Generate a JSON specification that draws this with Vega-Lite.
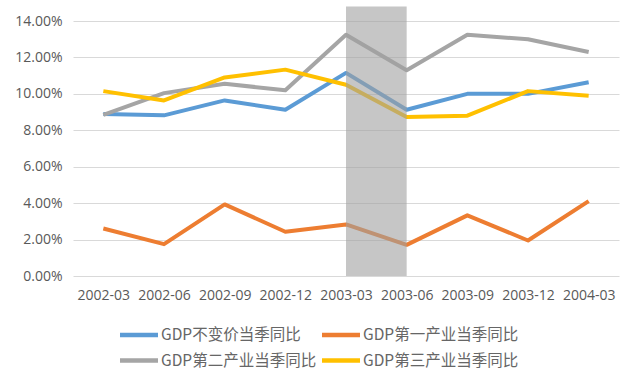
{
  "$schema": "https://vega.github.io/schema/vega-lite/v6.json",
  "width": 546,
  "height": 255,
  "autosize": {"type": "none"},
  "padding": {"left": 73, "top": 21, "right": 21, "bottom": 109},
  "background": "white",
  "config": {"view": {"stroke": null}, "font": "Open Sans"},
  "datasets": {
    "series": [
      {"date": "2002-03", "series": "GDP不变价当季同比", "value": 0.0890},
      {"date": "2002-06", "series": "GDP不变价当季同比", "value": 0.0882},
      {"date": "2002-09", "series": "GDP不变价当季同比", "value": 0.0964},
      {"date": "2002-12", "series": "GDP不变价当季同比", "value": 0.0913},
      {"date": "2003-03", "series": "GDP不变价当季同比", "value": 0.1115},
      {"date": "2003-06", "series": "GDP不变价当季同比", "value": 0.0913},
      {"date": "2003-09", "series": "GDP不变价当季同比", "value": 0.1000},
      {"date": "2003-12", "series": "GDP不变价当季同比", "value": 0.1000},
      {"date": "2004-03", "series": "GDP不变价当季同比", "value": 0.1064},
      {"date": "2002-03", "series": "GDP第一产业当季同比", "value": 0.0261},
      {"date": "2002-06", "series": "GDP第一产业当季同比", "value": 0.0175},
      {"date": "2002-09", "series": "GDP第一产业当季同比", "value": 0.0393},
      {"date": "2002-12", "series": "GDP第一产业当季同比", "value": 0.0243},
      {"date": "2003-03", "series": "GDP第一产业当季同比", "value": 0.0283},
      {"date": "2003-06", "series": "GDP第一产业当季同比", "value": 0.0171},
      {"date": "2003-09", "series": "GDP第一产业当季同比", "value": 0.0333},
      {"date": "2003-12", "series": "GDP第一产业当季同比", "value": 0.0195},
      {"date": "2004-03", "series": "GDP第一产业当季同比", "value": 0.0411},
      {"date": "2002-03", "series": "GDP第二产业当季同比", "value": 0.0885},
      {"date": "2002-06", "series": "GDP第二产业当季同比", "value": 0.1004},
      {"date": "2002-09", "series": "GDP第二产业当季同比", "value": 0.1055},
      {"date": "2002-12", "series": "GDP第二产业当季同比", "value": 0.1020},
      {"date": "2003-03", "series": "GDP第二产业当季同比", "value": 0.1324},
      {"date": "2003-06", "series": "GDP第二产业当季同比", "value": 0.1130},
      {"date": "2003-09", "series": "GDP第二产业当季同比", "value": 0.1324},
      {"date": "2003-12", "series": "GDP第二产业当季同比", "value": 0.1300},
      {"date": "2004-03", "series": "GDP第二产业当季同比", "value": 0.1230},
      {"date": "2002-03", "series": "GDP第三产业当季同比", "value": 0.1015},
      {"date": "2002-06", "series": "GDP第三产业当季同比", "value": 0.0964},
      {"date": "2002-09", "series": "GDP第三产业当季同比", "value": 0.1090},
      {"date": "2002-12", "series": "GDP第三产业当季同比", "value": 0.1133},
      {"date": "2003-03", "series": "GDP第三产业当季同比", "value": 0.1050},
      {"date": "2003-06", "series": "GDP第三产业当季同比", "value": 0.0873},
      {"date": "2003-09", "series": "GDP第三产业当季同比", "value": 0.0880},
      {"date": "2003-12", "series": "GDP第三产业当季同比", "value": 0.1015},
      {"date": "2004-03", "series": "GDP第三产业当季同比", "value": 0.0990}
    ],
    "shade": [
      {"date": "2003-03", "date2": "2003-06", "value": 0.148, "bottom": 0}
    ]
  },
  "encoding": {
    "x": {
      "field": "date", "type": "ordinal",
      "scale": {"type": "point", "padding": 0.5},
      "axis": {"title": null, "domain": false, "ticks": false, "grid": false, "labelAngle": 0,
               "labelFont": "Open Sans", "labelFontSize": 14, "labelColor": "#595959", "labelPadding": 12}
    },
    "y": {
      "field": "value", "type": "quantitative",
      "scale": {"domain": [0, 0.14], "nice": false, "zero": true},
      "axis": {"title": null, "domain": false, "ticks": false, "format": ".2%",
               "values": [0, 0.02, 0.04, 0.06, 0.08, 0.1, 0.12, 0.14],
               "gridColor": "#d9d9d9", "gridWidth": 1,
               "labelFont": "Open Sans", "labelFontSize": 14, "labelColor": "#595959", "labelPadding": 11}
    }
  },
  "layer": [
    {
      "data": {"name": "series"},
      "mark": {"type": "line", "strokeWidth": 4, "strokeJoin": "round", "strokeCap": "butt"},
      "encoding": {
        "color": {
          "field": "series", "type": "nominal",
          "scale": {
            "domain": ["GDP不变价当季同比", "GDP第一产业当季同比", "GDP第二产业当季同比", "GDP第三产业当季同比"],
            "range": ["#5B9BD5", "#ED7D31", "#A5A5A5", "#FFC000"]
          },
          "legend": {
            "orient": "none", "legendX": 54, "legendY": 302, "columns": 2, "direction": "horizontal", "title": null,
            "symbolType": "M-2,0H2", "symbolSize": 361, "symbolStrokeWidth": 4.5,
            "labelFont": "Noto Sans CJK SC", "labelFontSize": 15.5, "labelColor": "#666666",
            "labelOffset": 10, "columnPadding": -4, "rowPadding": 4.5, "padding": 0, "labelLimit": 300
          }
        }
      }
    },
    {
      "data": {"name": "shade"},
      "mark": {"type": "rect", "fill": "#a0a0a0", "opacity": 0.6},
      "encoding": {
        "x2": {"field": "date2"},
        "y2": {"field": "bottom"}
      }
    }
  ]
}
